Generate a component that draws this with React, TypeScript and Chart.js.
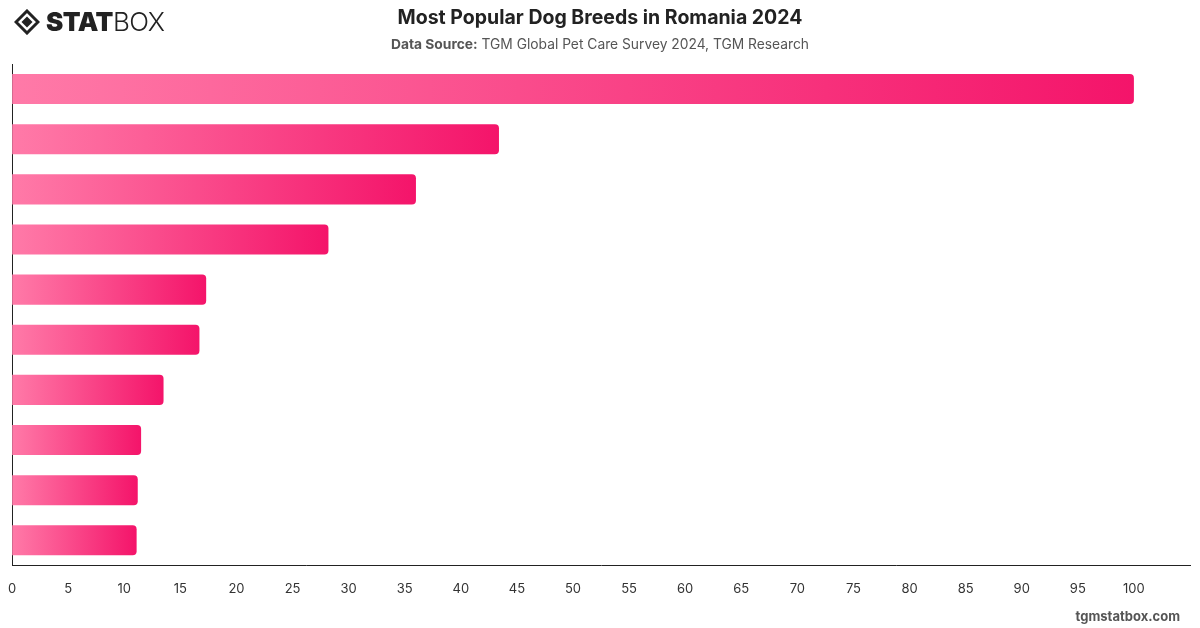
import React, { useEffect, useRef } from "react";
import { Chart, registerables } from "chart.js";

Chart.register(...registerables);

const categories: string[] = [
  "Breed 1", "Breed 2", "Breed 3", "Breed 4", "Breed 5",
  "Breed 6", "Breed 7", "Breed 8", "Breed 9", "Breed 10",
];
const values: number[] = [100, 43.4, 36.0, 28.2, 17.3, 16.7, 13.5, 11.5, 11.2, 11.1];
const xMax = 105;
const xStep = 5;

const colorLight = "#ff7aa8";
const colorDark = "#f4146a";

export default function App() {
  const ref = useRef<HTMLCanvasElement | null>(null);

  useEffect(() => {
    if (!ref.current) return;
    const chart = new Chart(ref.current, {
      type: "bar",
      data: {
        labels: categories,
        datasets: [
          {
            data: values,
            backgroundColor: (ctx: any) => {
              const c = ctx.chart;
              const area = c.chartArea;
              if (!area || !c.scales.x || ctx.raw == null) return colorDark;
              const x1 = c.scales.x.getPixelForValue(ctx.raw);
              const g = c.ctx.createLinearGradient(area.left, 0, Math.max(x1, area.left + 1), 0);
              g.addColorStop(0, colorLight);
              g.addColorStop(1, colorDark);
              return g;
            },
            borderRadius: { topLeft: 0, bottomLeft: 0, topRight: 4, bottomRight: 4 },
            borderSkipped: "start",
            categoryPercentage: 0.6,
            barPercentage: 1,
          },
        ],
      },
      options: {
        indexAxis: "y",
        animation: false,
        responsive: false,
        maintainAspectRatio: false,
        layout: { padding: { top: 64, left: 2, right: 10, bottom: 23 } },
        plugins: { legend: { display: false }, tooltip: { enabled: false }, title: { display: false } },
        scales: {
          x: {
            min: 0,
            max: xMax,
            grid: { display: false },
            border: { display: true, color: "#222", width: 1 },
            ticks: {
              stepSize: xStep,
              color: "#333",
              font: { family: "Inter", size: 13 },
              padding: 8,
              maxRotation: 0,
              autoSkip: false,
              callback: (v: any) => (Number(v) > 100 ? "" : String(v)),
            },
          },
          y: {
            grid: { display: false },
            border: { display: true, color: "#222", width: 1 },
            ticks: { display: false },
          },
        },
      },
    });
    return () => chart.destroy();
  }, []);

  return (
    <div style={{ position: "fixed", left: 0, top: 0, width: 1200, height: 628, background: "#fff", fontFamily: "Inter, sans-serif", overflow: "hidden" }}>
      <canvas ref={ref} width={1200} height={628} style={{ position: "absolute", left: 0, top: 0, width: 1200, height: 628 }} />
      <div style={{ position: "absolute", left: 14, top: 8, display: "flex", alignItems: "center", height: 28 }}>
        <svg width="26" height="26" viewBox="0 0 26 26" style={{ marginRight: 6 }}>
          <path d="M13 2 L24 13 L13 24 L2 13 Z" fill="none" stroke="#222" strokeWidth="3" />
          <path d="M13 7.5 L18.5 13 L13 18.5 L7.5 13 Z" fill="#222" />
        </svg>
        <span style={{ fontSize: 26, fontWeight: 900, color: "#222", letterSpacing: -0.5, lineHeight: "28px" }}>STAT</span>
        <span style={{ fontSize: 26, fontWeight: 300, color: "#222", letterSpacing: -0.5, lineHeight: "28px" }}>BOX</span>
      </div>
      <div style={{ position: "absolute", left: 0, width: 1200, top: 4, textAlign: "center", fontSize: 19.5, fontWeight: 700, color: "#222", lineHeight: "26px" }}>
        Most Popular Dog Breeds in Romania 2024
      </div>
      <div style={{ position: "absolute", left: 0, width: 1200, top: 35, textAlign: "center", fontSize: 13.8, color: "#555", lineHeight: "18px" }}>
        <span style={{ fontWeight: 700 }}>Data Source:</span> TGM Global Pet Care Survey 2024, TGM Research
      </div>
      <div style={{ position: "absolute", right: 20, top: 607, fontSize: 13, fontWeight: 700, color: "#555", lineHeight: "18px" }}>
        tgmstatbox.com
      </div>
    </div>
  );
}
